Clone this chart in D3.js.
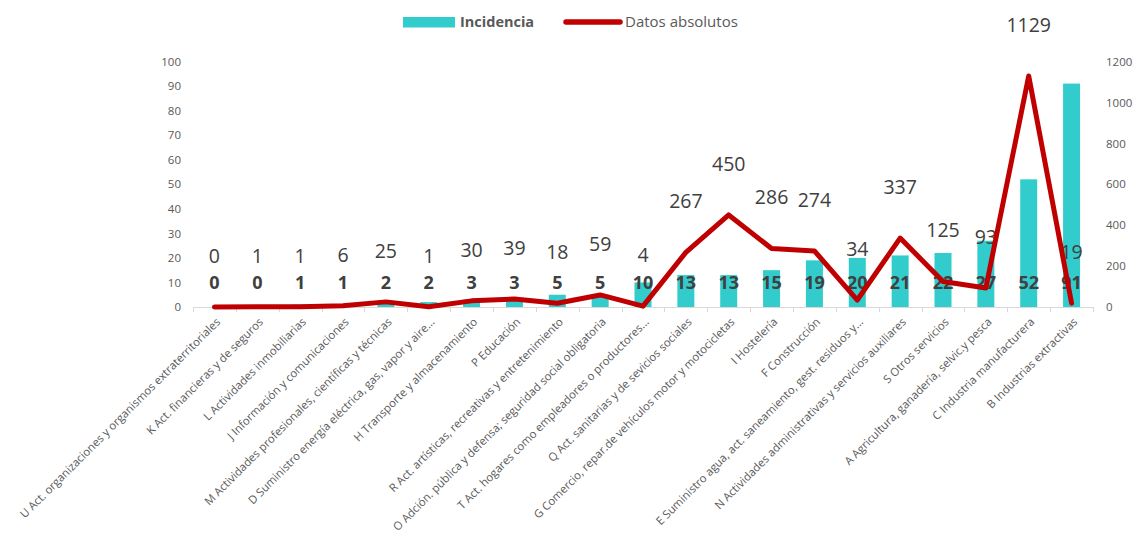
<!DOCTYPE html>
<html>
<head>
<meta charset="utf-8">
<script src="https://cdn.jsdelivr.net/npm/d3@7"></script>
<style>
  html, body { margin: 0; padding: 0; background: #fff; }
  svg { display: block; font-family: "Open Sans", "Noto Sans", sans-serif; }
</style>
</head>
<body>
<svg id="chart" width="1136" height="539"></svg>
<script>
// Sectores de actividad (CNAE), ordenados por incidencia
const categories = [
  "U Act. organizaciones y organismos extraterritoriales",
  "K Act. financieras y de seguros",
  "L Actividades inmobiliarias",
  "J Información y comunicaciones",
  "M Actividades profesionales, científicas y técnicas",
  "D Suministro energía eléctrica, gas, vapor y aire...",
  "H Transporte y almacenamiento",
  "P Educación",
  "R Act. artísticas, recreativas y entretenimiento",
  "O Adción. pública y defensa; seguridad social obligatoria",
  "T Act. hogares como empleadores o productores...",
  "Q Act. sanitarias y de sevicios sociales",
  "G Comercio, repar.de vehículos motor y motocicletas",
  "I Hostelería",
  "F Construcción",
  "E Suministro agua, act. saneamiento, gest. residuos y...",
  "N Actividades administrativas y servicios auxiliares",
  "S Otros servicios",
  "A Agricultura, ganadería, selvic.y pesca",
  "C Industria manufacturera",
  "B Industrias extractivas"
];

// Incidencia (eje izquierdo)
const incidencia = [0, 0, 1, 1, 2, 2, 3, 3, 5, 5, 10, 13, 13, 15, 19, 20, 21, 22, 27, 52, 91];

// Datos absolutos (eje derecho)
const absolutos = [0, 1, 1, 6, 25, 1, 30, 39, 18, 59, 4, 267, 450, 286, 274, 34, 337, 125, 93, 1129, 19];

// Marcas de los ejes
const leftTicks = [0, 10, 20, 30, 40, 50, 60, 70, 80, 90, 100];
const rightTicks = [0, 200, 400, 600, 800, 1000, 1200];

const seriesNames = ["Incidencia", "Datos absolutos"];

// ---- layout ----
const plot = { left: 193, right: 1093, top: 61.5, bottom: 307 };
const barColor = "#33CCCC";
const lineColor = "#C00000";
const textDark = "#404040";
const textAxis = "#595959";
const gridGrey = "#D9D9D9";

const svg = d3.select("#chart");

const x = d3.scaleBand()
  .domain(categories)
  .range([plot.left, plot.right])
  .paddingInner(0)
  .paddingOuter(0);

const yL = d3.scaleLinear().domain([0, 100]).range([plot.bottom, plot.top]);
const yR = d3.scaleLinear().domain([0, 1200]).range([plot.bottom, plot.top]);

const barW = 17;
const cx = c => x(c) + x.bandwidth() / 2;

// Bars
svg.append("g")
  .selectAll("rect")
  .data(categories)
  .join("rect")
  .attr("x", c => cx(c) - barW / 2)
  .attr("width", barW)
  .attr("y", (c, i) => yL(incidencia[i]))
  .attr("height", (c, i) => yL(0) - yL(incidencia[i]))
  .attr("fill", barColor);

// Category axis: baseline and boundary ticks
const axisG = svg.append("g");
axisG.append("line")
  .attr("x1", plot.left).attr("x2", plot.right)
  .attr("y1", plot.bottom + 0.5).attr("y2", plot.bottom + 0.5)
  .attr("stroke", gridGrey).attr("stroke-width", 1);
const bounds = categories.map(c => x(c)).concat([plot.right]);
axisG.selectAll("line.tick")
  .data(bounds)
  .join("line")
  .attr("class", "tick")
  .attr("x1", d => Math.round(d) + 0.5).attr("x2", d => Math.round(d) + 0.5)
  .attr("y1", plot.bottom).attr("y2", plot.bottom + 5)
  .attr("stroke", gridGrey).attr("stroke-width", 1);

// Rotated category labels
axisG.selectAll("text.cat")
  .data(categories)
  .join("text")
  .attr("class", "cat")
  .attr("transform", c => `translate(${cx(c) + 1},${plot.bottom + 10}) rotate(-45)`)
  .attr("text-anchor", "end")
  .attr("dy", "0.7em")
  .attr("font-size", 11.3)
  .attr("fill", textAxis)
  .text(c => c);

// Left value axis (labels only)
const leftAxis = d3.axisLeft(yL).tickValues(leftTicks).tickSize(0).tickPadding(0)
  .tickFormat(d3.format("d"));
const gL = svg.append("g").attr("transform", `translate(${plot.left - 12},0)`).call(leftAxis);
gL.select(".domain").remove();
gL.selectAll("text").attr("font-size", 11.5).attr("fill", textAxis)
  .attr("font-family", "'Open Sans', sans-serif");

// Right value axis (labels only)
const rightAxis = d3.axisRight(yR).tickValues(rightTicks).tickSize(0).tickPadding(0)
  .tickFormat(d3.format("d"));
const gR = svg.append("g").attr("transform", `translate(${plot.right + 13},0)`).call(rightAxis);
gR.select(".domain").remove();
gR.selectAll("text").attr("font-size", 11.5).attr("fill", textAxis)
  .attr("font-family", "'Open Sans', sans-serif");

// Bar value labels at the inside base
svg.append("g")
  .selectAll("text")
  .data(categories)
  .join("text")
  .attr("x", c => cx(c))
  .attr("y", plot.bottom - 24)
  .attr("dy", "0.35em")
  .attr("text-anchor", "middle")
  .attr("font-size", 18)
  .attr("font-weight", "bold")
  .attr("fill", textDark)
  .text((c, i) => incidencia[i]);

// Line value labels above each point
svg.append("g")
  .selectAll("text")
  .data(categories)
  .join("text")
  .attr("x", c => cx(c))
  .attr("y", (c, i) => yR(absolutos[i]) - 51)
  .attr("dy", "0.35em")
  .attr("text-anchor", "middle")
  .attr("font-size", 19.5)
  .attr("fill", textDark)
  .text((c, i) => absolutos[i]);

// Absolute values line
const line = d3.line()
  .x((d, i) => cx(categories[i]))
  .y(d => yR(d));
svg.append("path")
  .datum(absolutos)
  .attr("d", line)
  .attr("fill", "none")
  .attr("stroke", lineColor)
  .attr("stroke-width", 5)
  .attr("stroke-linejoin", "round")
  .attr("stroke-linecap", "round");

// Legend
const lg = svg.append("g");
lg.append("rect")
  .attr("x", 403).attr("y", 17).attr("width", 52).attr("height", 10.5)
  .attr("fill", barColor);
lg.append("text")
  .attr("x", 460).attr("y", 22).attr("dy", "0.35em")
  .attr("font-size", 14.5).attr("font-weight", "bold").attr("fill", textAxis)
  .text(seriesNames[0]);
lg.append("line")
  .attr("x1", 566).attr("x2", 620).attr("y1", 22).attr("y2", 22)
  .attr("stroke", lineColor).attr("stroke-width", 5.5).attr("stroke-linecap", "round");
lg.append("text")
  .attr("x", 625).attr("y", 22).attr("dy", "0.35em")
  .attr("font-size", 15).attr("fill", textAxis)
  .text(seriesNames[1]);
</script>
</body>
</html>
